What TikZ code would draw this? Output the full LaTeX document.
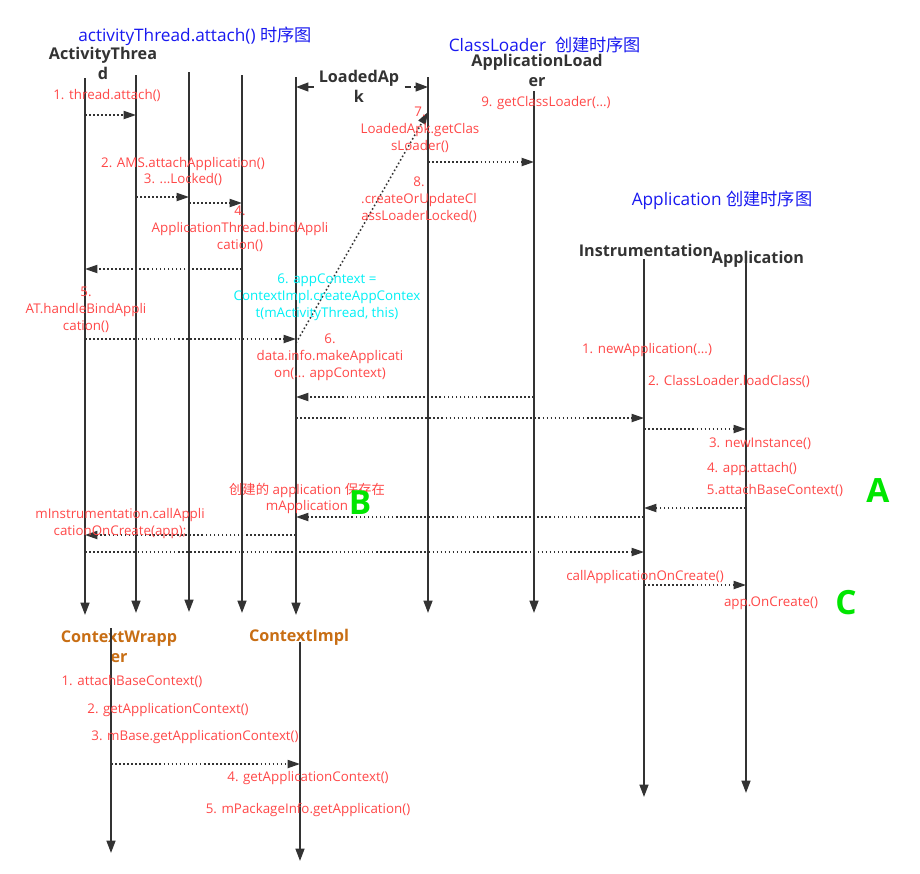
\documentclass[tikz,border=0pt]{standalone}
\usepackage{fontspec}
\setmainfont{Open Sans}
\newfontfamily\cjk{Noto Sans CJK SC}
\usetikzlibrary{arrows.meta}
\definecolor{SQred}{RGB}{255, 72, 72}
\definecolor{SQblue}{RGB}{25, 25, 240}
\definecolor{SQcyan}{RGB}{0, 240, 245}
\definecolor{SQgreen}{RGB}{0, 230, 0}
\definecolor{SQorange}{RGB}{200, 110, 20}
\definecolor{SQgray}{RGB}{51, 51, 51}
\tikzset{
  life/.style={-{Triangle[length=7pt, width=5pt]}, line width=1.1pt, SQgray},
  msg/.style={-{Triangle[length=7pt, width=4.6pt]}, line width=0.9pt, dash pattern=on 0.9pt off 1.4pt, SQgray},
  span/.style={{Triangle[length=7pt, width=5pt]}-{Triangle[length=7pt, width=5pt]}, line width=0.9pt, dash pattern=on 3.5pt off 2pt, SQgray},
  head/.style={font=\fontsize{9.2}{11.4}\selectfont\bfseries, text=SQgray, align=center, inner sep=0pt},
  orhead/.style={head, text=SQorange},
  lbl/.style={font=\fontsize{7.6}{9.6}\selectfont, text=SQred, align=center, inner sep=0pt},
  note/.style={lbl, text=SQcyan},
  title/.style={font=\fontsize{9.8}{12}\selectfont, text=SQblue, inner sep=0pt},
  letter/.style={font=\fontsize{19}{19}\selectfont\bfseries, text=SQgreen, inner sep=0pt},
}

\begin{document}
\begin{tikzpicture}[x=0.02cm, y=-0.02cm]
    \fill[white] (0,0) rectangle (920,873);
    \useasboundingbox (0,0) rectangle (920,873);
    \node[title] (tAT) at (195,36) {activityThread.attach() {\cjk 时序图}};
    \node[title] (tCL) at (545,45) {ClassLoader\ \ {\cjk 创建时序图}};
    \node[title] (tApp) at (722,200) {Application {\cjk 创建时序图}};
    \node[head] (hAT) at (103,63) {ActivityThrea\\d};
    \node[head] (hLdr) at (537,70) {ApplicationLoad\\er};
    \node[head] (hInst) at (646,250) {Instrumentation};
    \node[head] (hApp) at (758,259) {Application};
    \node[orhead] (hCW) at (119,647) {ContextWrapp\\er};
    \node[orhead] (hCI) at (299,637) {ContextImpl};
    \coordinate (t1) at (85,78);   \coordinate (b1) at (85,615);
    \coordinate (t2) at (136,75);  \coordinate (b2) at (136,613);
    \coordinate (t3) at (189,72);  \coordinate (b3) at (189,612);
    \coordinate (t4) at (242,75);  \coordinate (b4) at (242,613);
    \coordinate (t5) at (296,77);  \coordinate (b5) at (296,615);
    \coordinate (t6) at (428,77);  \coordinate (b6) at (428,613);
    \coordinate (t7) at (534,91);  \coordinate (b7) at (534,613);
    \coordinate (tI) at (644,259); \coordinate (bI) at (644,797);
    \coordinate (tA) at (746,262); \coordinate (bA) at (746,793);
    \coordinate (tW) at (111,628); \coordinate (bW) at (111,853);
    \coordinate (tC) at (300,642); \coordinate (bC) at (300,861);
    \foreach \l in {1,2,3,4,5,6,7,I,A,W,C} \draw[life] (t\l) -- (b\l);
    \draw[span] (t5 |- 0,87) -- (t6 |- 0,87);
    \node[head, fill=white, inner xsep=1pt] (hApk) at (359,86.5) {LoadedAp\\k};
    \draw[msg] (t1 |- 0,115) -- (t2 |- 0,115);
    \draw[msg] (t2 |- 0,197) -- (t3 |- 0,197);
    \draw[msg] (t3 |- 0,203) -- (t4 |- 0,203);
    \draw[msg] (t4 |- 0,269) -- (t1 |- 0,269);
    \draw[msg] (t1 |- 0,339) -- (t5 |- 0,339);
    \draw[msg] (t5 |- 0,343) -- (t6 |- 0,112);
    \draw[msg] (t6 |- 0,162) -- (t7 |- 0,162);
    \draw[msg] (t7 |- 0,397) -- (t5 |- 0,397);
    \draw[msg] (t5 |- 0,418) -- (tI |- 0,418);
    \draw[msg] (tI |- 0,429) -- (tA |- 0,429);
    \draw[msg] (tA |- 0,508) -- (tI |- 0,508);
    \draw[msg] (tI |- 0,517) -- (t5 |- 0,517);
    \draw[msg] (t5 |- 0,535) -- (t1 |- 0,535);
    \draw[msg] (t1 |- 0,552) -- (tI |- 0,552);
    \draw[msg] (tI |- 0,585) -- (tA |- 0,585);
    \draw[msg] (tW |- 0,764) -- (tC |- 0,764);
    \node[lbl] (m1) at (107,95) {1. thread.attach()};
    \node[lbl] (m2) at (183,171.5) {2. AMS.attachApplication()\\3. ...Locked()};
    \node[lbl] (m4) at (240,229) {4.\\ApplicationThread.bindAppli\\cation()};
    \node[lbl] (m5) at (86,310) {5.\\AT.handleBindAppli\\cation()};
    \node[note] (m6c) at (327,297) {6. appContext =\\ContextImpl.createAppContex\\t(mActivityThread, this)};
    \node[lbl] (m6) at (330,357) {6.\\data.info.makeApplicati\\on(... appContext)};
    \node[lbl] (m7) at (420,130) {7.\\LoadedApk.getClas\\sLoader()};
    \node[lbl] (m8) at (419,200) {8.\\.createOrUpdateCl\\assLoaderLocked()};
    \node[lbl] (m9) at (546,103) {9. getClassLoader(...)};
    \node[lbl] (a1) at (647,350) {1. newApplication(...)};
    \node[lbl] (a2) at (729,381) {2. ClassLoader.loadClass()};
    \node[lbl] (a3) at (760,444) {3. newInstance()};
    \node[lbl] (a4) at (752,469) {4. app.attach()};
    \node[lbl] (a5) at (775,490) {5.attachBaseContext()};
    \node[lbl] (aSave) at (307,498.5) {{\cjk 创建的} application {\cjk 保存在}\\mApplication};
    \node[lbl] (aCall) at (120,523.5) {mInstrumentation.callAppli\\cationOnCreate(app);};
    \node[lbl] (a6) at (645,577) {callApplicationOnCreate()};
    \node[lbl] (a7) at (771,603) {app.OnCreate()};
    \node[letter] (lA) at (878,491) {A};
    \node[letter] (lB) at (360,503) {B};
    \node[letter] (lC) at (846,603) {C};
    \node[lbl] (c1) at (132,681) {1. attachBaseContext()};
    \node[lbl] (c2) at (168,710) {2. getApplicationContext()};
    \node[lbl] (c3) at (195,737) {3. mBase.getApplicationContext()};
    \node[lbl] (c4) at (308,778) {4. getApplicationContext()};
    \node[lbl] (c5) at (308,810) {5. mPackageInfo.getApplication()};
\end{tikzpicture}
\end{document}
